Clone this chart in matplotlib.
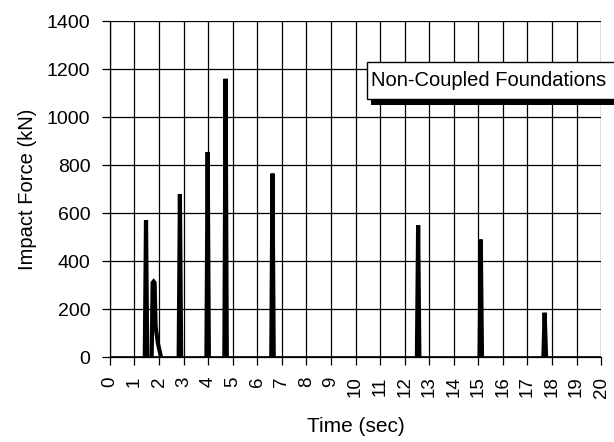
import matplotlib
matplotlib.use("Agg")
import matplotlib.pyplot as plt
from matplotlib.patches import Rectangle

plt.rcParams['font.family'] = ['Liberation Sans', 'DejaVu Sans']

nan = float("nan")

# impact force trace (nan = gap between impacts)
time = [1.42, 1.47, 1.52, nan, 1.70, 1.74, 1.78, 1.82, 1.86, 1.95, 2.08, nan,
        2.80, 2.85, 2.90, nan, 3.93, 3.98, 4.03, nan, 4.66, 4.71, 4.76, nan,
        6.57, 6.62, 6.67, nan, 12.50, 12.55, 12.60, nan, 15.05, 15.10, 15.15, nan,
        17.65, 17.70, 17.76]
force = [0, 570, 0, nan, 0, 310, 315, 310, 130, 60, 0, nan,
         0, 680, 0, nan, 0, 855, 0, nan, 0, 1160, 0, nan,
         0, 765, 0, nan, 0, 550, 0, nan, 0, 490, 0, nan,
         0, 185, 0]

xticks = list(range(0, 21))
yticks = list(range(0, 1401, 200))
legend_text = "Non-Coupled Foundations"

fig = plt.figure(figsize=(6.14, 4.42), dpi=100)
ax = fig.add_axes([0.179, 0.192, 0.800, 0.760])

ax.plot(time, force, color="black", linewidth=3.0, solid_joinstyle="miter")
ax.axhline(0, color="black", linewidth=1.2)

ax.set_xlim(0, 20)
ax.set_ylim(0, 1400)
ax.set_xticks(xticks)
ax.set_yticks(yticks)
ax.set_xticklabels([str(v) for v in xticks], rotation=90, fontsize=13.5)
ax.set_yticklabels([str(v) for v in yticks], fontsize=14)
ax.grid(True, color="black", linewidth=0.9)
ax.tick_params(direction="out", length=6, width=0.9, color="black", pad=8)
for s in ax.spines.values():
    s.set_linewidth(0.9)
ax.spines["top"].set_visible(False)
ax.spines["right"].set_visible(False)

ax.set_xlabel("Time (sec)", fontsize=15, labelpad=14)
ax.set_ylabel("Impact Force (kN)", fontsize=14.5, labelpad=7)

# legend-style box with drop shadow
fig.patches.append(Rectangle((0.604, 0.762), 0.40, 0.016, transform=fig.transFigure,
                             facecolor="black", edgecolor="none", zorder=5))
fig.patches.append(Rectangle((0.598, 0.776), 0.41, 0.084, transform=fig.transFigure,
                             facecolor="white", edgecolor="black", linewidth=1, zorder=6))
fig.text(0.604, 0.819, legend_text, fontsize=14.5, va="center", ha="left", zorder=7)

fig.savefig("out.png", dpi=100)
